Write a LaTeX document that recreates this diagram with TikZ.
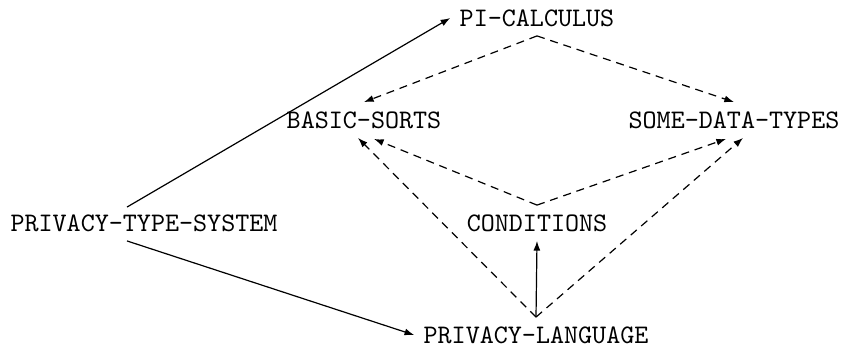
\documentclass[tikz,border=0pt]{standalone}
\usepackage{tikz}
\usetikzlibrary{arrows.meta,calc}
\tikzset{
  mod/.style={font=\ttfamily, inner sep=3.33pt},
  arr/.style={-{Latex[length=3.6pt,width=2.6pt]}, draw=black, line width=0.45pt},
  darr/.style={arr, dash pattern=on 3pt off 2.2pt},
}
\begin{document}
\begin{tikzpicture}[x=0.3737pt,y=-0.3737pt]
  \useasboundingbox (0,0) rectangle (842,347);

  \node[mod] (pi) at (537,18) {PI-CALCULUS};
  \node[mod] (bs) at (364,120) {BASIC-SORTS};
  \node[mod] (sdt) at (734,120) {SOME-DATA-TYPES};
  \node[mod] (pts) at (144,223) {PRIVACY-TYPE-SYSTEM};
  \node[mod] (cond) at (537,223) {CONDITIONS};
  \node[mod] (pl) at (536,335) {PRIVACY-LANGUAGE};

  % imports
  \draw[arr] ($(pts.north)+(-17,2)$) -- (pi.west);
  \draw[arr] ($(pts.south)+(-17,0)$) -- (pl.west);
  \draw[arr] (pl.north) -- (cond.south);

  % hiding links
  \draw[darr] (pi.south) -- (bs.north);
  \draw[darr] (pi.south) -- (sdt.north);
  \draw[darr] (cond.north) -- ($(bs.south)+(10,1)$);
  \draw[darr] (cond.north) -- ($(sdt.south)+(-8,1)$);
  \draw[darr] (pl.north) -- ($(bs.south)+(-6,0)$);
  \draw[darr] (pl.north) -- ($(sdt.south)+(9,0)$);
\end{tikzpicture}
\end{document}
